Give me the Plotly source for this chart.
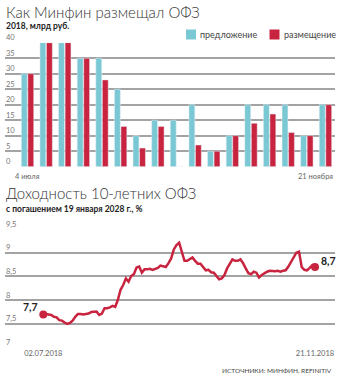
import pandas as pd
import plotly.graph_objects as go

# --- Weekly OFZ auctions, 2018, bn rub ---
offer = [30, 40, 40, 35, 35, 25, 10, 15, 15, 20, 5, 10, 20, 20, 20, 10, 20]
placed = [30, 40, 40, 35, 28, 13, 6, 13, 0, 7, 5, 10, 14, 17, 11, 10, 20]
bar_tick_labels = ["4 июля", "21 ноября"]
bar_y_ticks = [0, 5, 10, 15, 20, 25, 30, 35, 40]

# --- Yield of the 10-year OFZ maturing 19.01.2028, %, trading days ---
yield_start, yield_end = "2018-07-02", "2018-11-21"
ofz_yield = [
    7.70, 7.71, 7.70, 7.69, 7.65, 7.64, 7.58, 7.57, 7.53, 7.50,
    7.52, 7.57, 7.65, 7.71, 7.71, 7.70, 7.71, 7.72, 7.75, 7.75,
    7.76, 7.69, 7.72, 7.83, 7.83, 7.85, 7.88, 7.86, 8.01, 8.22,
    8.32, 8.46, 8.39, 8.51, 8.55, 8.69, 8.71, 8.58, 8.65, 8.65,
    8.66, 8.64, 8.66, 8.68, 8.73, 8.71, 8.70, 8.78, 8.88, 9.07,
    9.16, 9.21, 9.03, 8.83, 8.83, 8.87, 8.90, 8.83, 8.77, 8.77,
    8.69, 8.63, 8.64, 8.59, 8.58, 8.50, 8.44, 8.46, 8.53, 8.67,
    8.78, 8.86, 8.83, 8.83, 8.86, 8.78, 8.67, 8.57, 8.55, 8.60,
    8.58, 8.48, 8.53, 8.57, 8.60, 8.62, 8.61, 8.61, 8.62, 8.60,
    8.62, 8.63, 8.71, 8.81, 8.93, 9.00, 9.02, 8.70, 8.64, 8.63,
    8.68, 8.74, 8.70,
]
line_y_ticks = [7, 7.5, 8, 8.5, 9, 9.5]

CYAN = "#7ac8d3"
RED = "#c8243f"
GRID = "#a3a3a3"
FONT = "Lato"
W, H = 342, 380
ML, MR = 5, 7


def px_x(px):
    return (px - ML) / (W - ML - MR)


def px_y(py):
    return 1 - py / H


def comma(v, fmt="{:g}"):
    return fmt.format(v).replace(".", ",")


trade_days = pd.bdate_range(yield_start, yield_end)
day_idx = list(range(len(ofz_yield)))
weeks = list(range(len(offer)))

fig = go.Figure()

fig.add_bar(x=weeks, y=offer, name="предложение", marker_color=CYAN,
            xaxis="x", yaxis="y")
fig.add_bar(x=weeks, y=placed, name="размещение", marker_color=RED,
            xaxis="x", yaxis="y")

fig.add_scatter(x=day_idx, y=ofz_yield, mode="lines",
                line=dict(color=RED, width=2.5),
                xaxis="x2", yaxis="y2")
fig.add_scatter(x=[day_idx[0], day_idx[-1]], y=[ofz_yield[0], ofz_yield[-1]],
                mode="markers", marker=dict(color=RED, size=8),
                xaxis="x2", yaxis="y2")

annotations = []

# headings
annotations += [
    dict(text="Как Минфин размещал ОФЗ", x=0, y=px_y(11.5),
         font=dict(size=15, color="#333", family=FONT, weight=300)),
    dict(text="<b>2018, млрд руб.</b>", x=0, y=px_y(25.5),
         font=dict(size=8.5, color="#222", family=FONT)),
    dict(text="Доходность 10-летних ОФЗ", x=0, y=px_y(192.5),
         font=dict(size=15, color="#333", family=FONT, weight=300)),
    dict(text="<b>с погашением 19 января 2028 г., %</b>", x=0, y=px_y(209),
         font=dict(size=8.5, color="#222", family=FONT)),
]
for a in annotations:
    a.update(xref="paper", yref="paper", xanchor="left", yanchor="middle",
             showarrow=False, borderpad=0)

# legend
for name, color, x0 in [("предложение", CYAN, 186), ("размещение", RED, 269.5)]:
    annotations.append(dict(
        text=name, xref="paper", yref="paper", x=px_x(x0 + 13), y=px_y(34.5),
        xanchor="left", yanchor="middle", showarrow=False, borderpad=0,
        font=dict(size=9, color="#444", family=FONT)))

# y tick labels sit just above their gridlines
for v in bar_y_ticks:
    annotations.append(dict(
        text=str(v), xref="paper", yref="y", x=0, y=v,
        xanchor="left", yanchor="middle", yshift=5, showarrow=False,
        borderpad=0, font=dict(size=7.5, color="#777", family=FONT)))
for v in line_y_ticks:
    annotations.append(dict(
        text=comma(v), xref="paper", yref="y2", x=0, y=v,
        xanchor="left", yanchor="middle", yshift=5, showarrow=False,
        borderpad=0, font=dict(size=7.5, color="#777", family=FONT)))

# bar axis labels
annotations += [
    dict(text=bar_tick_labels[0], xref="x", yref="paper", x=weeks[0],
         y=px_y(176), xanchor="center", yanchor="middle", showarrow=False,
         font=dict(size=7.5, color="#666", family=FONT)),
    dict(text=bar_tick_labels[1], xref="paper", yref="paper", x=1,
         y=px_y(176), xanchor="right", yanchor="middle", showarrow=False,
         font=dict(size=7.5, color="#666", family=FONT)),
]

# end-point values of the yield line
annotations += [
    dict(text=f"<b>{comma(ofz_yield[0], '{:.1f}')}</b>", xref="x2", yref="y2",
         x=day_idx[0], y=ofz_yield[0], xanchor="right", yanchor="middle",
         xshift=-3, yshift=7, showarrow=False,
         font=dict(size=10.5, color="#222", family=FONT)),
    dict(text=f"<b>{comma(ofz_yield[-1], '{:.1f}')}</b>", xref="x2", yref="y2",
         x=day_idx[-1], y=ofz_yield[-1], xanchor="left", yanchor="middle",
         xshift=4, yshift=6, showarrow=False,
         font=dict(size=10.5, color="#222", family=FONT)),
]

# source line
annotations.append(dict(
    text="ИСТОЧНИКИ: МИНФИН, REFINITIV", xref="paper", yref="paper",
    x=px_x(334), y=px_y(370), xanchor="right", yanchor="middle",
    showarrow=False, font=dict(size=6.5, color="#444", family=FONT)))

shapes = [
    dict(type="rect", xref="paper", yref="paper",
         x0=px_x(186), x1=px_x(196), y0=px_y(39.5), y1=px_y(29.5),
         fillcolor=CYAN, line=dict(width=0)),
    dict(type="rect", xref="paper", yref="paper",
         x0=px_x(269.5), x1=px_x(279.5), y0=px_y(39.5), y1=px_y(29.5),
         fillcolor=RED, line=dict(width=0)),
]

# axis geometry
cat_px = 18.6
bar_left = -(27.5 - ML) / cat_px
bar_right = len(offer) - 1 + (W - MR - 325.5) / cat_px
day_px = (315 - 43.3) / (len(ofz_yield) - 1)
line_left = -(43.3 - ML) / day_px
line_right = len(ofz_yield) - 1 + (W - MR - 315) / day_px

fig.update_layout(
    width=W, height=H,
    margin=dict(l=ML, r=MR, t=0, b=0),
    paper_bgcolor="white", plot_bgcolor="white",
    showlegend=False,
    barmode="group", bargap=0.3, bargroupgap=0.1,
    font=dict(family=FONT, color="#555"),
    annotations=annotations,
    shapes=shapes,
    xaxis=dict(domain=[0, 1], range=[bar_left, bar_right],
               showticklabels=False, showgrid=False, zeroline=False,
               fixedrange=True),
    yaxis=dict(domain=[px_y(166.7), px_y(42.7)], range=[0, 40],
               tickvals=bar_y_ticks, showticklabels=False,
               showgrid=True, gridcolor=GRID, gridwidth=1.5,
               zeroline=False, fixedrange=True),
    xaxis2=dict(domain=[0, 1], range=[line_left, line_right], anchor="y2",
                tickvals=[day_idx[0], day_idx[-1]],
                ticktext=[trade_days[0].strftime("%d.%m.%Y"),
                          trade_days[-1].strftime("%d.%m.%Y")],
                ticks="", tickfont=dict(size=7.5, color="#666", family=FONT),
                showgrid=False, zeroline=False, fixedrange=True),
    yaxis2=dict(domain=[px_y(347.7), px_y(229)], range=[7, 9.5], anchor="x2",
                tickvals=line_y_ticks, showticklabels=False,
                showgrid=True, gridcolor=GRID, gridwidth=1.5,
                zeroline=False, fixedrange=True),
)

fig.write_html("out.html", config={"displayModeBar": False})
